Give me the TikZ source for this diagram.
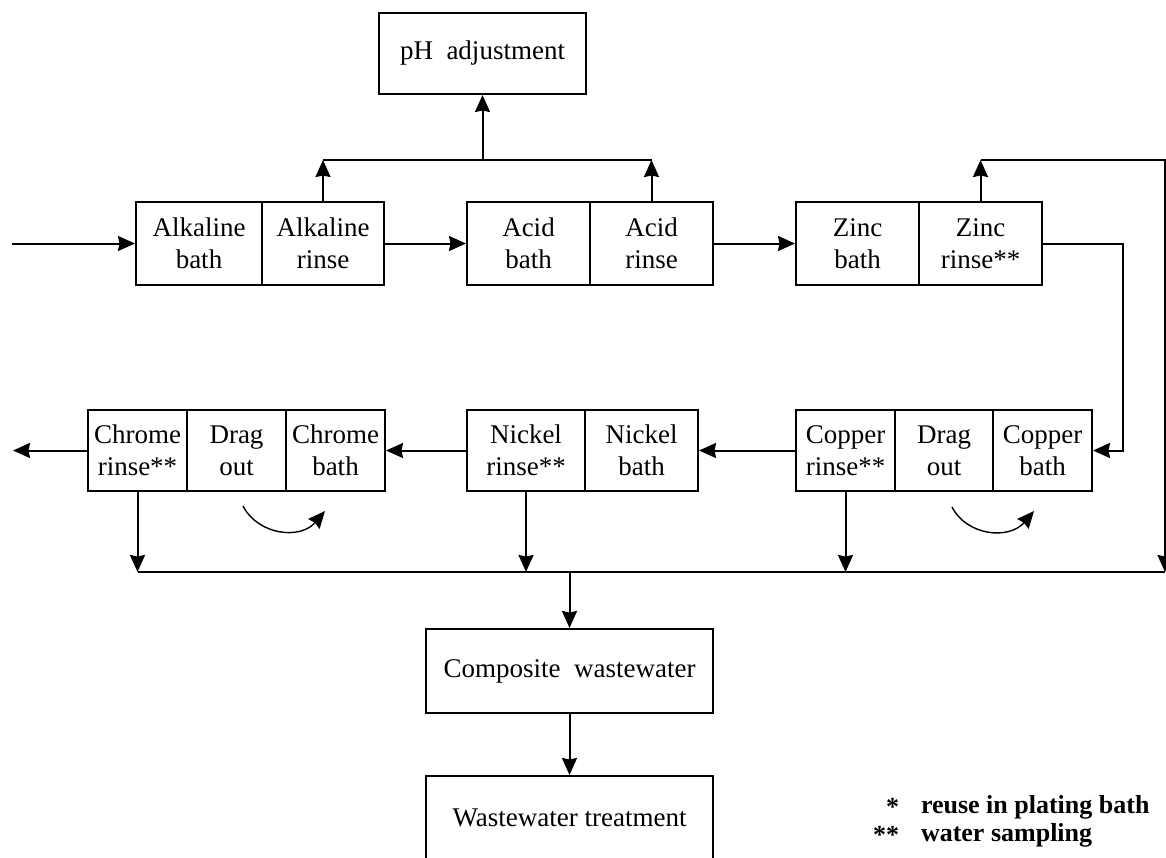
\documentclass[tikz,border=0pt]{standalone}
\usepackage{fontspec}
\setmainfont{Liberation Serif}
\usetikzlibrary{arrows.meta}
\begin{document}
\begin{tikzpicture}[x=1pt,y=-1pt,
  line width=2pt,
  cell/.style={draw, line width=2pt, inner sep=1pt, align=center,
    font=\fontsize{27}{32}\selectfont},
  arr/.style={-{Stealth[length=17pt,width=15pt,inset=1.5pt]}},
  curv/.style={line width=1.4pt,-{Stealth[length=17pt,width=15pt,inset=1.5pt]}},
  legend/.style={font=\fontsize{26}{30}\selectfont\bfseries, inner sep=0pt}]
\useasboundingbox (0,0) rectangle (1166,857);
% top box
\node[cell, minimum width=207, minimum height=81] (ph) at (482.5,53.5) {pH\ \ adjustment};
% row 1
\node[cell, minimum width=126, minimum height=83] (alkb) at (199,243.5) {Alkaline\\bath};
\node[cell, minimum width=122, minimum height=83] (alkr) at (323,243.5) {Alkaline\\rinse};
\node[cell, minimum width=123, minimum height=83] (acib) at (528.5,243.5) {Acid\\bath};
\node[cell, minimum width=123, minimum height=83] (acir) at (651.5,243.5) {Acid\\rinse};
\node[cell, minimum width=123, minimum height=83] (zinb) at (857.5,243.5) {Zinc\\bath};
\node[cell, minimum width=123, minimum height=83] (zinr) at (980.5,243.5) {Zinc\\rinse**};
% row 2
\node[cell, minimum width=99, minimum height=81] (chrr) at (137.5,450.5) {Chrome\\rinse**};
\node[cell, minimum width=99, minimum height=81] (drg1) at (236.5,450.5) {Drag\\out};
\node[cell, minimum width=99, minimum height=81] (chrb) at (335.5,450.5) {Chrome\\bath};
\node[cell, minimum width=118, minimum height=81] (nicr) at (526,450.5) {Nickel\\rinse**};
\node[cell, minimum width=113, minimum height=81] (nicb) at (641.5,450.5) {Nickel\\bath};
\node[cell, minimum width=99, minimum height=81] (copr) at (845.5,450.5) {Copper\\rinse**};
\node[cell, minimum width=98, minimum height=81] (drg2) at (944,450.5) {Drag\\out};
\node[cell, minimum width=99, minimum height=81] (copb) at (1042.5,450.5) {Copper\\bath};
% bottom boxes
\node[cell, minimum width=287, minimum height=84] (comp) at (569.5,671) {Composite\ \ wastewater};
\node[cell, minimum width=287, minimum height=84] (wwt) at (569.5,818) {Wastewater treatment};
% legend
\node[legend, anchor=east] (s1) at (900,807) {*};
\node[legend, anchor=west] (l1) at (920,807) {reuse in plating bath};
\node[legend, anchor=east] (s2) at (900,835) {**};
\node[legend, anchor=west] (l2) at (920,835) {water sampling};
% coordinates
\coordinate (in0) at (12,243.5);
\coordinate (out0) at (13,450.5);
\coordinate (hL) at (0,160);
\coordinate (rtop) at (1165,160);
\coordinate (rbot) at (1165,572);
\coordinate (bus) at (0,572);
\coordinate (zr1) at (1123,243.5);
\coordinate (c1a) at (243,506);
\coordinate (c1b) at (325,511);
\coordinate (c2a) at (952,507);
\coordinate (c2b) at (1034,511);
% row 1 flow
\draw[arr] (in0) -- (alkb.west);
\draw[arr] (alkr.east) -- (acib.west);
\draw[arr] (acir.east) -- (zinb.west);
% to pH
\draw[arr] (alkr.north) -- (alkr.north |- hL);
\draw[arr] (acir.north) -- (acir.north |- hL);
\draw (alkr.north |- hL) -- (acir.north |- hL);
\draw[arr] (ph.south |- hL) -- (ph.south);
% zinc rinse loops
\draw[arr] (zinr.north) -- (zinr.north |- rtop);
\draw[arr] (zinr.north |- rtop) -- (rtop) -- (rbot);
\draw[arr] (zinr.east) -- (zr1) |- (copb.east);
% row 2 flow
\draw[arr] (copr.west) -- (nicb.east);
\draw[arr] (nicr.west) -- (chrb.east);
\draw[arr] (chrr.west) -- (out0);
% drag-out returns
\draw[curv] (c1a) .. controls (258,535) and (300,540) .. (c1b);
\draw[curv] (c2a) .. controls (967,536) and (1009,540) .. (c2b);
% collection bus
\draw[arr] (chrr.south) -- (chrr.south |- bus);
\draw[arr] (nicr.south) -- (nicr.south |- bus);
\draw[arr] (copr.south) -- (copr.south |- bus);
\draw (chrr.south |- bus) -- (rbot);
\draw[arr] (comp.north |- bus) -- (comp.north);
\draw[arr] (comp.south) -- (wwt.north);
\end{tikzpicture}
\end{document}
